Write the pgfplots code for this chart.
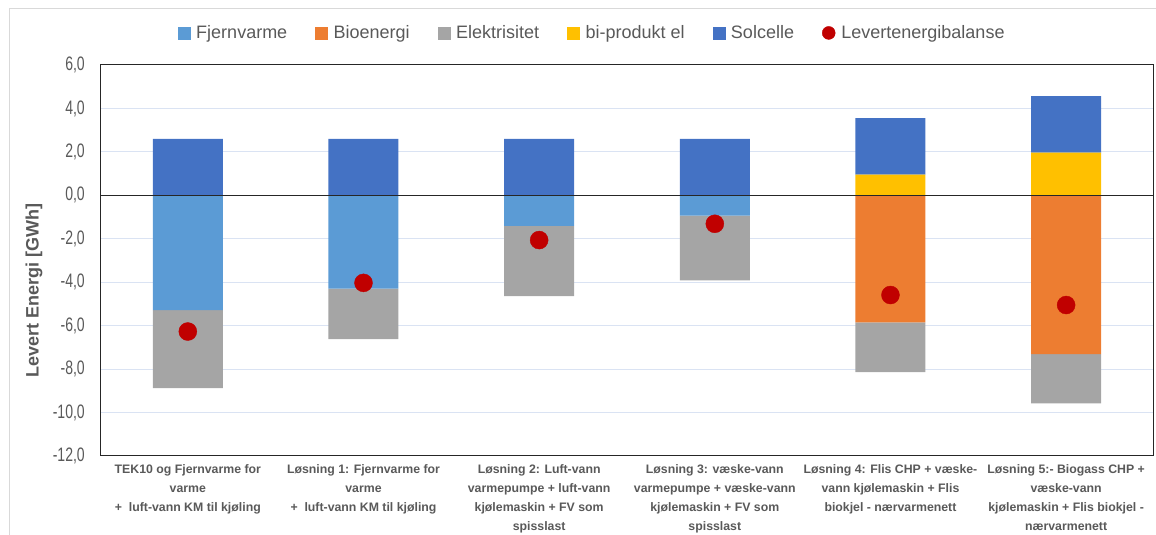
\documentclass[border=0pt]{standalone}
\usepackage{fontspec}
\setmainfont{Liberation Sans}
\newfontfamily\narrowfont[FakeStretch=0.72]{Liberation Sans}
\usepackage{pgfplots}
\pgfplotsset{compat=1.18}
\usepackage{pgfplotstable}
\definecolor{fjv}{HTML}{5B9BD5}
\definecolor{bio}{HTML}{ED7D31}
\definecolor{elc}{HTML}{A5A5A5}
\definecolor{bip}{HTML}{FFC000}
\definecolor{sol}{HTML}{4472C4}
\definecolor{bal}{HTML}{C00000}
\definecolor{txt}{HTML}{595959}
\definecolor{gridc}{HTML}{DAE3F3}

\pgfplotstableread{
x fjv bio el bip sol bal
0 -5.29 0 -3.59 0 2.60 -6.27
1 -4.30 0 -2.32 0 2.60 -4.03
2 -1.41 0 -3.23 0 2.60 -2.06
3 -0.94 0 -2.98 0 2.60 -1.31
4 0 -5.85 -2.29 0.95 2.60 -4.59
5 0 -7.31 -2.27 1.97 2.60 -5.05
}\data

\pgfplotsset{base/.style={width=1054pt,height=391pt,scale only axis,
  at={(100pt,79pt)},anchor=south west,xmin=-0.5,xmax=5.5,ymin=-12,ymax=6}}

\begin{document}
\begin{tikzpicture}
\path[use as bounding box] (0,0) rectangle (1156pt,535pt);
\draw[black!15, line width=1pt] (9pt,0pt) -- (9pt,526pt) -- (1156pt,526pt);

\begin{axis}[base, ybar stacked, bar width=70pt,
  ymajorgrids, grid style={gridc, line width=1pt},
  ytick={-12,-10,...,6}, xtick={0,...,5},
  major tick length=0pt,
  axis line style={black!85, line width=1pt},
  yticklabel style={font=\narrowfont\fontsize{19.5}{20}\selectfont, text=txt, anchor=east, inner sep=0pt, xshift=-15pt},
  /pgf/number format/fixed, /pgf/number format/fixed zerofill,
  /pgf/number format/precision=1, /pgf/number format/use comma,
  /pgf/number format/assume math mode=true,
  xticklabels={{TEK10 og Fjernvarme for\\varme\\+\ \ luft-vann KM til kjøling},
    {Løsning 1: Fjernvarme for\\varme\\+\ \ luft-vann KM til kjøling},
    {Løsning 2: Luft-vann\\varmepumpe + luft-vann\\kjølemaskin + FV som\\spisslast},
    {Løsning 3: væske-vann\\varmepumpe + væske-vann\\kjølemaskin + FV som\\spisslast},
    {Løsning 4: Flis CHP + væske-\\vann kjølemaskin + Flis\\biokjel - nærvarmenett},
    {Løsning 5:- Biogass CHP +\\væske-vann\\kjølemaskin + Flis biokjel -\\nærvarmenett}},
  xticklabel style={font=\bfseries\fontsize{12.3}{19}\selectfont, text=txt, align=center, anchor=north, inner sep=0pt, yshift=-8pt},
  ylabel={Levert Energi [GWh]},
  ylabel style={font=\bfseries\fontsize{18}{20}\selectfont, text=txt, at={(axis description cs:-0.0626,0.423)}, anchor=center},
]
\addplot[fill=fjv, draw=none] table[x=x,y=fjv]{\data};
\addplot[fill=bio, draw=none] table[x=x,y=bio]{\data};
\addplot[fill=elc, draw=none] table[x=x,y=el]{\data};
\end{axis}

\begin{axis}[base, ybar stacked, bar width=70pt, hide axis]
\addplot[fill=bip, draw=none] table[x=x,y=bip]{\data};
\addplot[fill=sol, draw=none] table[x=x,y=sol]{\data};
\end{axis}

\begin{axis}[base, hide axis, legend columns=6,
  legend style={draw=none, fill=none, at={(0.467,1.082)}, anchor=center,
    font=\fontsize{18}{20}\selectfont, text=txt,
    /tikz/every odd column/.append style={column sep=4pt},
    /tikz/every even column/.append style={column sep=26pt}},
  legend cell align=left]
\addlegendimage{legend image code/.code={\fill[fjv] (0pt,-6pt) rectangle (12pt,6pt);}}
\addlegendentry{Fjernvarme}
\addlegendimage{legend image code/.code={\fill[bio] (0pt,-6pt) rectangle (12pt,6pt);}}
\addlegendentry{Bioenergi}
\addlegendimage{legend image code/.code={\fill[elc] (0pt,-6pt) rectangle (12pt,6pt);}}
\addlegendentry{Elektrisitet}
\addlegendimage{legend image code/.code={\fill[bip] (0pt,-6pt) rectangle (12pt,6pt);}}
\addlegendentry{bi-produkt el}
\addlegendimage{legend image code/.code={\fill[sol] (0pt,-6pt) rectangle (12pt,6pt);}}
\addlegendentry{Solcelle}
\draw[black!85, line width=1pt] (axis cs:-0.5,0) -- (axis cs:5.5,0);
\addplot[only marks, mark=*, mark size=9pt, color=bal,
  legend image code/.code={\fill[bal] (6pt,0pt) circle (6.5pt);}]
  table[x=x,y=bal]{\data};
\addlegendentry{Levertenergibalanse}
\end{axis}
\end{tikzpicture}
\end{document}
